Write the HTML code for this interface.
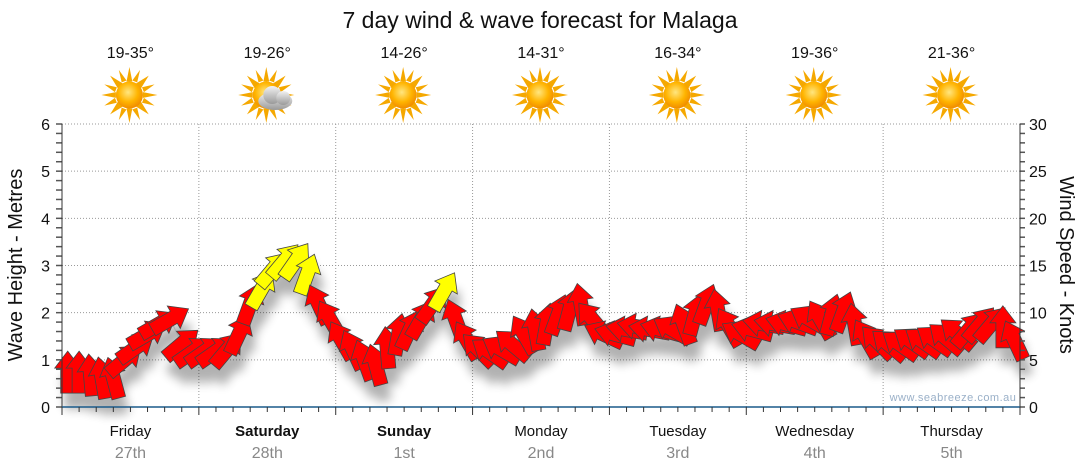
<!DOCTYPE html>
<html><head><meta charset="utf-8"><style>
body{margin:0;background:#fff;}
svg{display:block;font-family:"Liberation Sans","DejaVu Sans",sans-serif;}
</style></head><body>
<svg id="chart" width="1080" height="475" viewBox="0 0 1080 475">
<defs>
<radialGradient id="sunG" cx="45%" cy="40%" r="60%"><stop offset="0" stop-color="#ffe680"/><stop offset="0.6" stop-color="#ffb400"/><stop offset="1" stop-color="#f08c00"/></radialGradient>
<linearGradient id="cloudG" x1="0" y1="0" x2="0" y2="1"><stop offset="0" stop-color="#f2f2f2"/><stop offset="1" stop-color="#9a9a9a"/></linearGradient>
<filter id="sh" x="-50%" y="-50%" width="200%" height="200%"><feGaussianBlur stdDeviation="5"/></filter>
<symbol id="sun" viewBox="-30 -30 60 60"><g fill="#f5a800">
<polygon points="0,-29 3,-14 -3,-14"/><polygon points="0,29 3,14 -3,14"/><polygon points="-29,0 -14,3 -14,-3"/><polygon points="29,0 14,3 14,-3"/>
<polygon points="20,-20 12,-7 7,-12"/><polygon points="-20,-20 -12,-7 -7,-12"/><polygon points="20,20 12,7 7,12"/><polygon points="-20,20 -12,7 -7,12"/>
<polygon points="11,-26 8,-13 3,-15"/><polygon points="-11,-26 -8,-13 -3,-15"/><polygon points="11,26 8,13 3,15"/><polygon points="-11,26 -8,13 -3,15"/>
<polygon points="26,-11 13,-8 15,-3"/><polygon points="-26,-11 -13,-8 -15,-3"/><polygon points="26,11 13,8 15,3"/><polygon points="-26,11 -13,8 -15,3"/></g>
<circle r="14" fill="url(#sunG)"/></symbol>
</defs>
<text x="540" y="28" font-size="23" text-anchor="middle" fill="#111">7 day wind &amp; wave forecast for Malaga</text>
<g id="topG"></g>
<g id="grid"></g>
<g id="shadows" filter="url(#sh)" opacity="0.3"></g>
<g id="marks"></g>
<g id="axes"></g>
<text x="953" y="401" font-size="11" fill="#9ab0c8" text-anchor="middle" letter-spacing="0.5">www.seabreeze.com.au</text>
<text transform="translate(22,265) rotate(-90)" font-size="20" text-anchor="middle" fill="#111">Wave Height - Metres</text>
<text transform="translate(1060,265) rotate(90)" font-size="20" text-anchor="middle" fill="#111">Wind Speed - Knots</text>
</svg>
<script>
const days=["Friday","Saturday","Sunday","Monday","Tuesday","Wednesday","Thursday"];
const dates=["27th","28th","1st","2nd","3rd","4th","5th"];
const boldDays=[false,true,true,false,false,false,false];
const temps=["19-35°","19-26°","14-26°","14-31°","16-34°","19-36°","21-36°"];
const cloudy=[false,true,false,false,false,false,false];
const waveTicks=[0,1,2,3,4,5,6];
const windTicks=[0,5,10,15,20,25,30];
// wind speed (knots) every 2 hours
const windSpeed=[3.7,3.7,3.4,3.1,3.1,5.0,6.3,7.7,8.8,9.3,6.7,5.9,5.9,5.9,6.1,7.7,10.9,12.5,14.6,15.5,15.5,14.1,10.9,9.3,7.1,6.1,5.0,4.5,6.3,7.7,8.2,9.3,10.9,12.3,9.3,7.1,6.1,5.8,6.1,6.6,7.7,8.2,8.8,9.8,10.3,10.9,9.3,7.7,7.7,8.2,8.5,8.2,8.2,8.2,8.8,9.8,10.9,10.3,8.5,7.7,8.2,8.8,8.8,8.8,9.0,9.3,9.3,9.8,10.1,8.8,7.3,6.9,6.6,6.6,6.9,6.9,7.1,7.3,7.8,8.2,8.8,8.8,8.5,7.1];
// wind direction of travel, degrees clockwise from up
const windDir=[0,0,-5,-10,-15,50,55,60,60,60,50,55,55,55,40,25,20,30,40,40,35,20,-25,-30,-30,-25,-20,-15,-5,10,25,30,35,30,-20,-30,-45,-55,-60,-50,-30,-10,10,20,15,-10,-40,-65,-75,-80,-80,-80,-75,-60,-20,15,20,-10,-30,-60,-75,-80,-80,-75,-70,-60,-30,15,20,-10,-30,-45,-50,-55,-55,-55,-55,-50,-50,40,40,40,0,-25];
const NS="http://www.w3.org/2000/svg";
const X0=62,X1=1020,Y0=407,Y1=124;
const nHours=168;
function xOfHour(h){return X0+(X1-X0)*h/nHours;}
function yWave(m){return Y0-(Y0-Y1)*m/6;}
function yWind(k){return Y0-(Y0-Y1)*k/30;}
function el(tag,attrs,parent){const e=document.createElementNS(NS,tag);for(const k in attrs)e.setAttribute(k,attrs[k]);parent.appendChild(e);return e;}
const topG=document.getElementById('topG'),gridG=document.getElementById('grid'),axesG=document.getElementById('axes'),marksG=document.getElementById('marks'),shadowsG=document.getElementById('shadows');
const dayW=(X1-X0)/7;
days.forEach((d,i)=>{
  const cx=X0+dayW*(i+0.5);
  const t=el('text',{x:cx,y:58,'font-size':16,'text-anchor':'middle',fill:'#111'},topG);t.textContent=temps[i];
  
  
  const u=el('use',{href:'#sun',x:cx-30,y:66,width:58,height:58},topG);
  
  
  if(cloudy[i]){const c=el('g',{transform:`translate(${cx+8},${99})`},topG);
    el('ellipse',{cx:0,cy:2,rx:17,ry:9,fill:'url(#cloudG)'},c);el('circle',{cx:-3,cy:-4,r:9,fill:'url(#cloudG)'},c);el('circle',{cx:8,cy:-1,r:7,fill:'url(#cloudG)'},c);}
  const dl=el('text',{x:cx,y:436,'font-size':15,'text-anchor':'middle',fill:'#111','font-weight':boldDays[i]?'bold':'normal'},axesG);dl.textContent=d;
  
  
  const dt=el('text',{x:cx,y:458,'font-size':16,'text-anchor':'middle',fill:'#888'},axesG);dt.textContent=dates[i];
  
  
  if(i>0){const gl=el('line',{x1:X0+dayW*i,x2:X0+dayW*i,y1:Y1,y2:Y0,stroke:'#999','stroke-dasharray':'1,2'},gridG);
    
    }
});
waveTicks.forEach(v=>{const y=yWave(v);
  if(v>0){const g=el('line',{x1:X0,x2:X1,y1:y,y2:y,stroke:'#999','stroke-dasharray':'1,2'},gridG);
    
    }
  const t=el('text',{x:50,y:y+6,'font-size':16,'text-anchor':'end',fill:'#111'},axesG);t.textContent=v;
  
  });
for(let m=0;m<=6.001;m+=0.2){el('line',{x1:X0-6,x2:X0,y1:yWave(m),y2:yWave(m),stroke:'#555','stroke-width':1.5},axesG);}
windTicks.forEach(v=>{const t=el('text',{x:1029,y:yWind(v)+6,'font-size':16,fill:'#111'},axesG);t.textContent=v;
  
  });
for(let k=0;k<=30;k++){el('line',{x1:X1,x2:X1+5,y1:yWind(k),y2:yWind(k),stroke:'#555','stroke-width':1.5},axesG);}
el('line',{x1:X0,x2:X0,y1:Y1,y2:Y0,stroke:'#333'},axesG);
el('line',{x1:X1,x2:X1,y1:Y1,y2:Y0,stroke:'#333'},axesG);
el('line',{x1:X0,x2:X1,y1:Y0,y2:Y0,stroke:'#1a5a8a','stroke-width':1.5},axesG);
for(let h=0;h<=nHours;h+=3){el('line',{x1:xOfHour(h),x2:xOfHour(h),y1:Y0,y2:Y0+(h%24===0?8:5),stroke:'#333'},axesG);}
let pts=windSpeed.map((s,i)=>xOfHour(i*2+1)+','+yWind(s)).join(' ');
el('polyline',{points:pts,fill:'none',stroke:'#aaa','stroke-width':1},marksG);
const arrowPts="0,-21 13,-4 7,-4 7,21 -7,21 -7,-4 -13,-4";
windSpeed.forEach((s,i)=>{
  const x=xOfHour(i*2+1),y=yWind(s),a=windDir[i];
  el('polygon',{points:arrowPts,transform:`translate(${x+4},${y+16}) rotate(${a})`,fill:'#000'},shadowsG);
  const p=el('polygon',{points:arrowPts,transform:`translate(${x},${y}) rotate(${a})`,fill:s>=12?'#ffff00':'#ff0000',stroke:'#444','stroke-width':0.8},marksG);
  
  
});
</script>
</body></html>
